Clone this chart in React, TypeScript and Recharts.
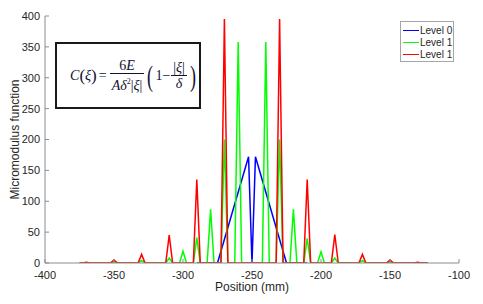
import React from 'react';
import { LineChart, Line, XAxis, YAxis, Legend } from 'recharts';

const FONT = '"Liberation Sans", Arial, Helvetica, sans-serif';
const SERIF = '"Liberation Serif", "DejaVu Serif", "Times New Roman", serif';
const AXIS = '#8c8c8c';
const TEXT = '#262626';

const X_TICKS = [-400, -350, -300, -250, -200, -150, -100];
const Y_TICKS = [0, 50, 100, 150, 200, 250, 300, 350, 400];

// Level 0 (blue): coarse discretisation, two-sided hat
const level0X = [-290, -275, -252.5, -250, -247.5, -225, -210];
const level0Y = [0, 0, 172, 0, 172, 0, 0];

// Level 1 (green): spikes every 10 mm
const greenRange = [-375, -122.5];
const greenPeakX = [-370, -350, -330, -310, -300, -290, -280, -270, -260, -240, -230, -220, -210, -200, -190, -170, -150, -130];
const greenPeakY = [0.5, 2, 4, 8, 19, 41, 87, 200, 358, 358, 200, 87, 40, 18, 8, 4, 2, 0.5];

// Level 1 (red): spikes every 20 mm
const redRange = [-375, -122.5];
const redPeakX = [-370, -350, -330, -310, -290, -270, -230, -210, -190, -170, -150, -130];
const redPeakY = [1, 5, 14, 45, 135, 395, 395, 135, 46, 14, 5, 1];

// half width of each spike = sample spacing of the grid (mm)
const HALF_BASE = 2.5;

function buildSpikes(range: number[], peakX: number[], peakY: number[]) {
  const pts = [{ x: range[0], y: 0 }];
  peakX.forEach((px, i) => {
    pts.push({ x: px - HALF_BASE, y: 0 }, { x: px, y: peakY[i] }, { x: px + HALF_BASE, y: 0 });
  });
  pts.push({ x: range[1], y: 0 });
  return pts;
}

const blueData = level0X.map((x, i) => ({ x, y: level0Y[i] }));
const greenData = buildSpikes(greenRange, greenPeakX, greenPeakY);
const redData = buildSpikes(redRange, redPeakX, redPeakY);

function LegendBox({ payload }: any) {
  return (
    <div
      style={{
        width: 54,
        height: 41,
        boxSizing: 'border-box',
        border: '1px solid #a6a6a6',
        background: '#fff',
        paddingTop: 2,
        fontFamily: FONT,
        fontSize: 10,
        color: TEXT,
      }}
    >
      {(payload || []).map((p: any, i: number) => (
        <div key={i} style={{ display: 'flex', alignItems: 'center', height: 12 }}>
          <span style={{ width: 16, height: 0, borderTop: `1.5px solid ${p.color}`, marginLeft: 2, marginRight: 1 }} />
          <span>{p.value}</span>
        </div>
      ))}
    </div>
  );
}

function YLabel({ viewBox }: any) {
  const cy = viewBox.y + viewBox.height / 2;
  return (
    <text transform={`translate(18.5, ${cy}) rotate(-90)`} textAnchor="middle" fontSize={12} fill={TEXT} fontFamily={FONT}>
      Micromodulus function
    </text>
  );
}

function Frac({ num, den }: { num: React.ReactNode; den: React.ReactNode }) {
  return (
    <span style={{ display: 'inline-flex', flexDirection: 'column', alignItems: 'center', margin: '0 1px' }}>
      <span style={{ padding: '0 2px', lineHeight: '15px' }}>{num}</span>
      <span style={{ alignSelf: 'stretch', borderTop: '1px solid #111133' }} />
      <span style={{ padding: '0 2px', lineHeight: '15px' }}>{den}</span>
    </span>
  );
}

function Formula() {
  const big = { fontSize: 30, lineHeight: '30px', display: 'inline-block', transform: 'scaleX(0.6)' };
  return (
    <div
      style={{
        position: 'absolute',
        left: 55,
        top: 42,
        width: 146,
        height: 67,
        boxSizing: 'border-box',
        border: '2px solid #1a1a1a',
        background: '#fff',
        display: 'flex',
        alignItems: 'center',
        justifyContent: 'center',
        paddingLeft: 12,
        fontFamily: SERIF,
        fontSize: 14,
        color: '#111133',
        whiteSpace: 'nowrap',
      }}
    >
      <i>C</i>
      <span style={{ fontSize: 17 }}>(</span>
      <i>ξ</i>
      <span style={{ fontSize: 17 }}>)</span>
      <span style={{ margin: '0 2px' }}>=</span>
      <Frac
        num={<>6<i>E</i></>}
        den={<><i>A</i><i>δ</i><sup style={{ fontSize: 8 }}>2</sup>|<i>ξ</i>|</>}
      />
      <span style={big}>(</span>
      <span>1−</span>
      <Frac num={<>|<i>ξ</i>|</>} den={<i>δ</i>} />
      <span style={big}>)</span>
    </div>
  );
}

export default function App() {
  return (
    <div style={{ position: 'absolute', left: 0, top: 0, width: 483, height: 304, background: '#fff', fontFamily: FONT }}>
      <LineChart width={483} height={304} margin={{ top: 16, right: 24, bottom: 0, left: 0 }}>
        <XAxis
          xAxisId="b"
          type="number"
          dataKey="x"
          domain={[-400, -100]}
          ticks={X_TICKS}
          allowDataOverflow
          height={41}
          stroke={AXIS}
          tickSize={-4}
          tickMargin={12}
          tick={{ fontSize: 11, fill: TEXT }}
          label={{ value: 'Position (mm)', position: 'insideBottom', offset: 13, fontSize: 12, fill: TEXT }}
        />
        <XAxis
          xAxisId="t"
          orientation="top"
          type="number"
          dataKey="x"
          domain={[-400, -100]}
          ticks={X_TICKS}
          allowDataOverflow
          height={0}
          stroke={AXIS}
          tickSize={-4}
          tick={false}
        />
        <YAxis
          yAxisId="l"
          type="number"
          domain={[0, 400]}
          ticks={Y_TICKS}
          allowDataOverflow
          width={45}
          stroke={AXIS}
          tickSize={-4}
          tickMargin={9}
          tick={{ fontSize: 11, fill: TEXT }}
          label={<YLabel />}
        />
        <YAxis
          yAxisId="r"
          orientation="right"
          type="number"
          domain={[0, 400]}
          ticks={Y_TICKS}
          allowDataOverflow
          width={0}
          stroke={AXIS}
          tickSize={-4}
          tick={false}
        />
        <Legend
          layout="horizontal"
          verticalAlign="middle"
          align="center"
          content={<LegendBox />}
          wrapperStyle={{ left: 400, top: 21, width: 'auto', height: 'auto' }}
        />
        <Line xAxisId="b" yAxisId="l" data={blueData} dataKey="y" name="Level 0" stroke="#0000ff" strokeWidth={1.5} dot={false} isAnimationActive={false} />
        <Line xAxisId="b" yAxisId="l" data={greenData} dataKey="y" name="Level 1" stroke="#00ff00" strokeWidth={1.5} dot={false} isAnimationActive={false} />
        <Line xAxisId="b" yAxisId="l" data={redData} dataKey="y" name="Level 1" stroke="#ff0000" strokeWidth={1.5} dot={false} isAnimationActive={false} />
      </LineChart>
      <Formula />
    </div>
  );
}
